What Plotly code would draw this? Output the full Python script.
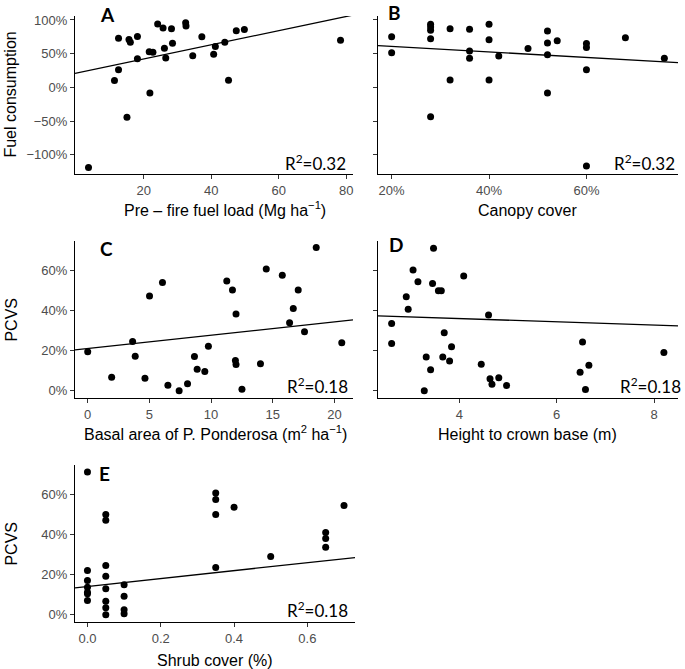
import plotly.graph_objects as go

W, H = 685, 669

# Panel A: pre-fire fuel load vs fuel consumption
fuel_load = [3.6, 11.3, 12.5, 12.5, 15.0, 15.6, 16.0, 18.1, 18.1, 21.6, 21.8, 22.7, 24.1, 25.7,
             26.1, 26.5, 28.2, 28.5, 32.4, 32.5, 34.5, 37.2, 40.7, 41.2, 44.0, 45.1, 47.4, 49.8, 78.3]
fuel_cons_a = [-119, 10, 26, 73, -44.5, 71, 67, 75.5, 42.5, 53, -8.5, 52, 94, 88,
               58, 43.5, 87, 65.5, 96, 91, 47, 75, 49, 60.5, 67, 10.5, 84, 86, 70]

# Panel B: canopy cover vs fuel consumption
canopy_cover = [20, 20, 28, 28, 28, 28, 28, 32, 32, 36, 36, 36, 40, 40, 40, 42, 48,
                52, 52, 52, 52, 54, 60, 60, 60, 60, 68, 76]
fuel_cons_b = [75, 51.5, 93.6, 89.7, 84.8, 72, -43.6, 86.8, 10.8, 86.3, 54, 43, 93.6, 70.6, 10.8, 46.6, 57.8,
               83.8, 65.7, 48.5, -8.3, 69, 65, 59.3, 26, -116.7, 73.5, 43]

# Panel C: basal area of P. ponderosa vs PCVS
basal_area = [0, 1.94, 3.64, 3.85, 4.64, 5.01, 6.06, 6.5, 7.41, 8.09, 8.65, 8.87, 9.49, 9.78, 11.27,
              11.73, 12.02, 11.97, 12.02, 12.5, 14.0, 14.47, 15.77, 16.36, 16.66, 17.06, 17.57, 18.52, 20.59]
pcvs_c = [19.5, 6.8, 24.7, 17.3, 6.3, 47.5, 54.2, 2.8, 0, 3.5, 17.2, 10.8, 9.7, 22.3, 55,
          50.5, 38.5, 15.2, 13.2, 0.8, 13.5, 61, 57.8, 34, 41.2, 50.5, 29.5, 71.7, 24]

# Panel D: height to crown base vs PCVS
crown_base = [2.61, 2.61, 2.91, 2.95, 3.05, 3.15, 3.28, 3.32, 3.41, 3.45, 3.47, 3.57, 3.63, 3.66, 3.69,
              3.8, 3.84, 4.09, 4.45, 4.6, 4.63, 4.67, 4.81, 4.97, 6.48, 6.53, 6.59, 6.66, 8.2]
pcvs_d = [33.7, 23.7, 47.1, 40.8, 60.5, 54.6, 0, 16.9, 10.6, 53.7, 71.3, 50.1, 50.1, 16.9, 29,
          14.9, 22.1, 57.4, 13.3, 38, 6.1, 3.3, 6.6, 2.7, 9.3, 24.4, 0.7, 12.8, 19.2]

# Panel E: shrub cover vs PCVS
shrub_cover = [0, 0, 0, 0, 0, 0, 0,
               0.05, 0.05, 0.05, 0.05, 0.05, 0.05, 0.05, 0.05,
               0.1, 0.1, 0.1, 0.1,
               0.35, 0.35, 0.35, 0.35, 0.4, 0.5, 0.65, 0.65, 0.65, 0.7]
pcvs_e = [71.5, 22.2, 17.2, 13.8, 11.3, 10.5, 7.2,
          50.2, 47.3, 24.7, 19.3, 13, 6.8, 3.5, 0,
          15, 9.3, 2.5, 0.5,
          61, 57.7, 50.2, 23.7, 53.8, 29.2, 41.2, 38.2, 33.8, 54.7]

# fitted lines (intercept, slope) as drawn in each panel
fit_a = (21.2, 1.05)
fit_b = (69.0, -0.41)
fit_c = (21.2, 0.664)
fit_d = (39.4, -0.81)
fit_e = (14.2, 19.8)

r2_labels = ["0.32", "0.32", "0.18", "0.18", "0.18"]
panel_letters = ["A", "B", "C", "D", "E"]

ticks_fuel_load = [20, 40, 60, 80]
ticks_canopy = [20, 40, 60]
ticks_basal = [0, 5, 10, 15, 20]
ticks_crown = [4, 6, 8]
ticks_shrub = [0, 0.2, 0.4, 0.6]
ticks_cons = [-100, -50, 0, 50, 100]
ticks_pcvs = [0, 20, 40, 60]


def px(x, y):
    return x / W, 1 - y / H


def pct_labels(vals):
    return [f"{v}%".replace("-", "\u2212") for v in vals]


fig = go.Figure()

panels = [
    dict(x=fuel_load, y=fuel_cons_a, fit=fit_a, box=(75, 353, 13, 172), xr=[-0.4, 82], yr=[-129, 106],
         xt=ticks_fuel_load, xf="", yt=ticks_cons, ylab=True),
    dict(x=canopy_cover, y=fuel_cons_b, fit=fit_b, box=(378, 678, 13, 172), xr=[17.2, 78.8], yr=[-129, 106],
         xt=ticks_canopy, xf="pct", yt=ticks_cons, ylab=False),
    dict(x=basal_area, y=pcvs_c, fit=fit_c, box=(75, 353, 239, 397), xr=[-1.03, 21.5], yr=[-3.7, 75],
         xt=ticks_basal, xf="", yt=ticks_pcvs, ylab=True),
    dict(x=crown_base, y=pcvs_d, fit=fit_d, box=(378, 678, 239, 397), xr=[2.33, 8.49], yr=[-3.7, 75],
         xt=ticks_crown, xf="", yt=ticks_pcvs, ylab=False),
    dict(x=shrub_cover, y=pcvs_e, fit=fit_e, box=(75, 355, 464, 622), xr=[-0.034, 0.73], yr=[-3.7, 75],
         xt=ticks_shrub, xf=".1f", yt=ticks_pcvs, ylab=True),
]

tick_font = dict(family="Liberation Sans, Arial", size=13, color="#4D4D4D")

for i, p in enumerate(panels):
    n = "" if i == 0 else str(i + 1)
    xa, ya = "x" + n, "y" + n
    l, r, t, b = p["box"]

    fig.add_trace(go.Scatter(
        x=p["x"], y=p["y"], mode="markers", xaxis=xa, yaxis=ya,
        marker=dict(color="black", size=7), showlegend=False, hoverinfo="skip"))

    b0, b1 = p["fit"]
    fx = p["xr"]
    fig.add_trace(go.Scatter(
        x=fx, y=[b0 + b1 * v for v in fx], mode="lines", xaxis=xa, yaxis=ya,
        line=dict(color="black", width=1.3), showlegend=False, hoverinfo="skip"))

    common = dict(showline=True, linecolor="black", linewidth=1.2, ticks="outside", ticklen=4,
                  tickcolor="#333333", tickwidth=1, showgrid=False, zeroline=False,
                  tickfont=tick_font)
    xaxis = dict(common, domain=[l / W, r / W], range=p["xr"], tickvals=p["xt"], anchor=ya)
    if p["xf"] == "pct":
        xaxis["ticktext"] = pct_labels(p["xt"])
    elif p["xf"]:
        xaxis["ticktext"] = [format(v, p["xf"]) for v in p["xt"]]
    yaxis = dict(common, domain=[1 - b / H, 1 - t / H], range=p["yr"], tickvals=p["yt"],
                 ticktext=pct_labels(p["yt"]), showticklabels=p["ylab"], anchor=xa)
    fig.layout["xaxis" + n] = xaxis
    fig.layout["yaxis" + n] = yaxis

annotations = []

# axis titles
title_font = dict(family="Liberation Sans, Arial", size=16, color="black")
x_titles = [
    ("Pre – fire fuel load (Mg ha<sup>−1</sup>)", 225, 207),
    ("Canopy cover", 527, 208),
    ("Basal area of P. Ponderosa (m<sup>2</sup> ha<sup>−1</sup>)", 215, 432),
    ("Height to crown base (m)", 527, 433),
    ("Shrub cover (%)", 215, 660),
]
for text, x, y in x_titles:
    ax, ay = px(x, y)
    annotations.append(dict(text=text, x=ax, y=ay, xref="paper", yref="paper", showarrow=False,
                            xanchor="center", yanchor="middle", font=title_font))

y_titles = [("Fuel consumption", 11, 92), ("PCVS", 12, 318), ("PCVS", 12, 543)]
for text, x, y in y_titles:
    ax, ay = px(x, y)
    annotations.append(dict(text=text, x=ax, y=ay, xref="paper", yref="paper", showarrow=False,
                            textangle=-90, xanchor="center", yanchor="middle", font=title_font))

# panel letters
letter_pos = [(107, 12), (394, 10), (106, 247), (396, 243), (104, 473)]
for letter, (x, y) in zip(panel_letters, letter_pos):
    ax, ay = px(x, y)
    annotations.append(dict(text="<b>" + letter + "</b>", x=ax, y=ay, xref="paper", yref="paper",
                            showarrow=False, xanchor="center", yanchor="middle",
                            font=dict(family="Lato", size=19, color="black")))

# R² labels (left edges)
r2_pos = [(283, 160), (612, 160), (285, 384), (618, 384), (285, 609)]
for lab, (x, y) in zip(r2_labels, r2_pos):
    ax, ay = px(x, y)
    annotations.append(dict(text="R<sup>2</sup>=" + lab, x=ax, y=ay, xref="paper", yref="paper",
                            showarrow=False, xanchor="left", yanchor="middle",
                            font=dict(family="Lato", size=17, color="black")))

fig.update_layout(
    width=W, height=H,
    margin=dict(l=0, r=0, t=0, b=0),
    paper_bgcolor="white", plot_bgcolor="white",
    annotations=annotations,
)

# drop the browser's default page margin so the figure sits at the window origin
fig.write_html("out.html", config={"displayModeBar": False},
               post_script="document.body.style.margin='0';")
